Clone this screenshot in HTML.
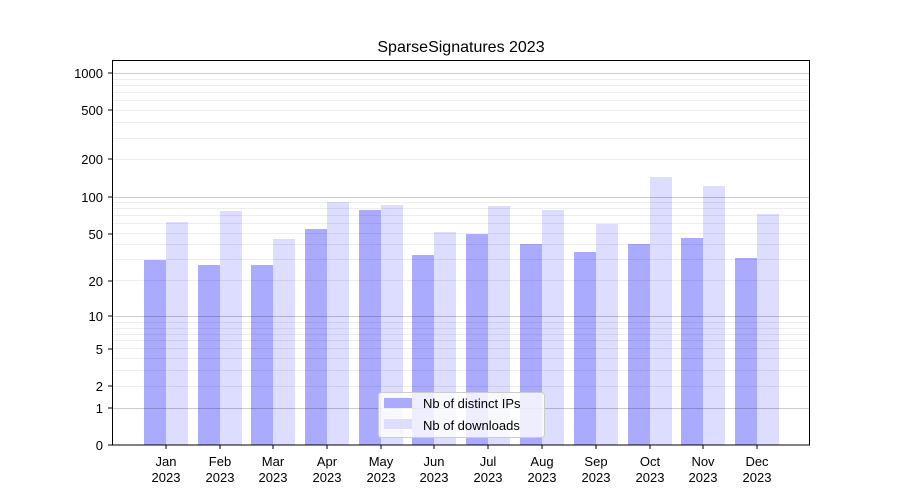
<!DOCTYPE html>
<html><head><meta charset="utf-8"><style>
body{margin:0;background:#fff;}
svg{display:block;font-family:"Liberation Sans","DejaVu Sans",sans-serif;}
</style></head><body>
<svg width="900" height="500" xmlns="http://www.w3.org/2000/svg">
<rect width="900" height="500" fill="#fff"/>
<text x="461" y="52" font-size="16" text-anchor="middle" fill="#000">SparseSignatures 2023</text>
<!-- bars -->
<g fill="#aaaaff">
<rect x="144" y="260" width="22" height="185"/><rect x="198" y="265" width="22" height="180"/><rect x="251" y="265" width="22" height="180"/><rect x="305" y="229" width="22" height="216"/><rect x="359" y="210" width="22" height="235"/><rect x="412" y="255" width="22" height="190"/><rect x="466" y="234" width="22" height="211"/><rect x="520" y="244" width="22" height="201"/><rect x="574" y="252" width="22" height="193"/><rect x="628" y="244" width="22" height="201"/><rect x="681" y="238" width="22" height="207"/><rect x="735" y="258" width="22" height="187"/>
</g>
<g fill="#ddddff">
<rect x="166" y="222" width="22" height="223"/><rect x="220" y="211" width="22" height="234"/><rect x="273" y="239" width="22" height="206"/><rect x="327" y="202" width="22" height="243"/><rect x="381" y="205" width="22" height="240"/><rect x="434" y="232" width="22" height="213"/><rect x="488" y="206" width="22" height="239"/><rect x="542" y="210" width="22" height="235"/><rect x="596" y="224" width="22" height="221"/><rect x="650" y="177" width="22" height="268"/><rect x="703" y="186" width="22" height="259"/><rect x="757" y="214" width="22" height="231"/>
</g>
<!-- minor grid (over bars) -->
<g stroke="#000" stroke-opacity="0.07" stroke-width="1">
<line x1="112" x2="810" y1="386.5" y2="386.5"/><line x1="112" x2="810" y1="370.5" y2="370.5"/><line x1="112" x2="810" y1="358.5" y2="358.5"/><line x1="112" x2="810" y1="348.5" y2="348.5"/><line x1="112" x2="810" y1="340.5" y2="340.5"/><line x1="112" x2="810" y1="334.5" y2="334.5"/><line x1="112" x2="810" y1="328.5" y2="328.5"/><line x1="112" x2="810" y1="322.5" y2="322.5"/>
<line x1="112" x2="810" y1="280.5" y2="280.5"/><line x1="112" x2="810" y1="259.5" y2="259.5"/><line x1="112" x2="810" y1="244.5" y2="244.5"/><line x1="112" x2="810" y1="233.5" y2="233.5"/><line x1="112" x2="810" y1="223.5" y2="223.5"/><line x1="112" x2="810" y1="215.5" y2="215.5"/><line x1="112" x2="810" y1="208.5" y2="208.5"/><line x1="112" x2="810" y1="202.5" y2="202.5"/>
<line x1="112" x2="810" y1="159.5" y2="159.5"/><line x1="112" x2="810" y1="138.5" y2="138.5"/><line x1="112" x2="810" y1="122.5" y2="122.5"/><line x1="112" x2="810" y1="110.5" y2="110.5"/><line x1="112" x2="810" y1="100.5" y2="100.5"/><line x1="112" x2="810" y1="92.5" y2="92.5"/><line x1="112" x2="810" y1="85.5" y2="85.5"/><line x1="112" x2="810" y1="79.5" y2="79.5"/>
</g>
<g stroke="#000" stroke-opacity="0.2" stroke-width="1">
<line x1="112" x2="810" y1="408.5" y2="408.5"/><line x1="112" x2="810" y1="316.5" y2="316.5"/><line x1="112" x2="810" y1="197.5" y2="197.5"/><line x1="112" x2="810" y1="73.5" y2="73.5"/>
</g>
<rect x="112.5" y="60.5" width="697" height="384.5" fill="none" stroke="#000"/>
<!-- y ticks -->
<g font-size="13" text-anchor="end" fill="#000">
<text x="103" y="450">0</text><text x="103" y="413">1</text><text x="103" y="391">2</text><text x="103" y="354">5</text><text x="103" y="321">10</text><text x="103" y="286">20</text><text x="103" y="239">50</text><text x="103" y="202">100</text><text x="103" y="164">200</text><text x="103" y="115">500</text><text x="103" y="78">1000</text>
</g>
<g stroke="#000">
<line x1="108" x2="112" y1="445" y2="445"/><line x1="108" x2="112" y1="408" y2="408"/><line x1="108" x2="112" y1="386" y2="386"/><line x1="108" x2="112" y1="349" y2="349"/><line x1="108" x2="112" y1="316" y2="316"/><line x1="108" x2="112" y1="281" y2="281"/><line x1="108" x2="112" y1="234" y2="234"/><line x1="108" x2="112" y1="197" y2="197"/><line x1="108" x2="112" y1="159" y2="159"/><line x1="108" x2="112" y1="110" y2="110"/><line x1="108" x2="112" y1="73" y2="73"/>
</g>
<!-- x ticks -->
<g font-size="13" text-anchor="middle" fill="#000">
<text x="166" y="466">Jan</text><text x="166" y="482">2023</text>
<text x="220" y="466">Feb</text><text x="220" y="482">2023</text>
<text x="273" y="466">Mar</text><text x="273" y="482">2023</text>
<text x="327" y="466">Apr</text><text x="327" y="482">2023</text>
<text x="381" y="466">May</text><text x="381" y="482">2023</text>
<text x="434" y="466">Jun</text><text x="434" y="482">2023</text>
<text x="488" y="466">Jul</text><text x="488" y="482">2023</text>
<text x="542" y="466">Aug</text><text x="542" y="482">2023</text>
<text x="596" y="466">Sep</text><text x="596" y="482">2023</text>
<text x="650" y="466">Oct</text><text x="650" y="482">2023</text>
<text x="703" y="466">Nov</text><text x="703" y="482">2023</text>
<text x="757" y="466">Dec</text><text x="757" y="482">2023</text>
</g>
<g stroke="#000">
<line x1="166" x2="166" y1="445" y2="449"/><line x1="220" x2="220" y1="445" y2="449"/><line x1="273" x2="273" y1="445" y2="449"/><line x1="327" x2="327" y1="445" y2="449"/><line x1="381" x2="381" y1="445" y2="449"/><line x1="434" x2="434" y1="445" y2="449"/><line x1="488" x2="488" y1="445" y2="449"/><line x1="542" x2="542" y1="445" y2="449"/><line x1="596" x2="596" y1="445" y2="449"/><line x1="650" x2="650" y1="445" y2="449"/><line x1="703" x2="703" y1="445" y2="449"/><line x1="757" x2="757" y1="445" y2="449"/>
</g>
<!-- legend -->
<rect x="378.5" y="392.5" width="166" height="45" rx="3" fill="#fff" fill-opacity="0.8" stroke="#ccc"/>
<rect x="384" y="398" width="28" height="10" fill="#aaaaff"/>
<rect x="384" y="419" width="28" height="10" fill="#ddddff"/>
<text x="423" y="408" font-size="13">Nb of distinct IPs</text>
<text x="423" y="430" font-size="13">Nb of downloads</text>
</svg>
</body></html>
